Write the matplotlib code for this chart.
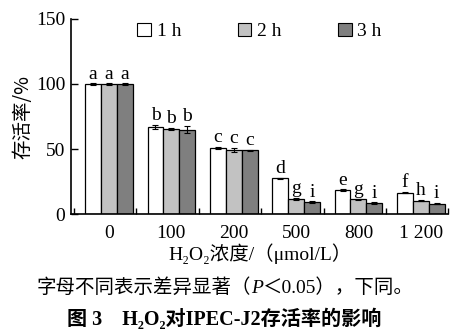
import numpy as np
import matplotlib
matplotlib.use('Agg')
from matplotlib import pyplot as plt
from matplotlib.patches import Patch

fonts = ['Liberation Serif', 'Noto Sans CJK SC', 'DejaVu Sans']
plt.rcParams['font.family'] = fonts

conc = ['0', '100', '200', '500', '800', '1 200']
series = ['1 h', '2 h', '3 h']
vals_1h = [100, 66.8, 51, 27.6, 18.5, 16.5]
vals_2h = [100, 65.5, 49.5, 11.8, 11.3, 10.3]
vals_3h = [100, 65, 49, 9.0, 8.5, 8.0]
err_1h = [0.5, 1.5, 0.6, 0.5, 0.5, 0.5]
err_2h = [0.5, 1.0, 1.5, 0.8, 0.5, 0.5]
err_3h = [0.5, 3.0, 0.6, 0.8, 0.5, 0.5]
letters_1h = ['a', 'b', 'c', 'd', 'e', 'f']
letters_2h = ['a', 'b', 'c', 'g', 'g', 'h']
letters_3h = ['a', 'b', 'c', 'i', 'i', 'i']
colors = ['white', '#c2c2c2', '#7f7f7f']


def plot_chart():
    fig = plt.figure(figsize=(4.64, 3.31), dpi=100)
    ax = fig.add_axes([0.153, 0.353, 0.813, 0.59])
    x = np.arange(len(conc))
    w = 0.255
    vals = [vals_1h, vals_2h, vals_3h]
    errs = [err_1h, err_2h, err_3h]
    lets = [letters_1h, letters_2h, letters_3h]
    for k in range(3):
        pos = x + 0.06 + (k - 1) * w
        ax.bar(pos, vals[k], width=w, color=colors[k], edgecolor='black', linewidth=0.9)
        ax.errorbar(pos, vals[k], yerr=errs[k], fmt='none', ecolor='black',
                    elinewidth=0.8, capsize=2, capthick=0.8)
        for p, v, e, t in zip(pos, vals[k], errs[k], lets[k]):
            ax.text(p, v + e + 0.6, t, ha='center', va='bottom', fontsize=14)

    ax.set_xlim(-0.55, 5.5)
    ax.set_ylim(0, 150)
    ax.set_yticks([0, 50, 100, 150])
    ax.set_xticks(x + 0.06)
    ax.set_xticklabels(conc)
    ax.set_xticks(np.arange(-0.5, 6, 1), minor=True)
    ax.tick_params(axis='x', which='major', length=0, pad=8, labelsize=14)
    ax.tick_params(axis='x', which='minor', direction='in', length=4, width=1)
    ax.tick_params(axis='y', direction='in', length=5, width=1, labelsize=14, pad=4)
    ax.spines['top'].set_visible(False)
    ax.spines['right'].set_visible(False)
    ax.spines['left'].set_linewidth(1.2)
    ax.spines['bottom'].set_linewidth(1.2)
    ax.set_ylabel('存活率/%', fontsize=14, labelpad=2,
                  family=['Noto Sans CJK SC', 'DejaVu Sans'])
    ax.set_xlabel('H₂O₂浓度/（μmol/L）', fontsize=14, labelpad=1)

    handles = [Patch(facecolor=c, edgecolor='black', linewidth=0.8) for c in colors]
    ax.legend(handles, series, loc='upper center', bbox_to_anchor=(0.5, 1.07), ncol=3,
              frameon=False, fontsize=14, handlelength=0.7, handleheight=0.7,
              handletextpad=0.3, columnspacing=2.9)

    t1 = fig.text(0.078, 0.115, '字母不同表示差异显著（', fontsize=14, va='baseline')
    t2 = ax.annotate('P', xy=(1, 0), xycoords=t1, va='bottom', fontsize=14,
                     style='italic', annotation_clip=False)
    ax.annotate('＜0.05），下同。', xy=(1, 0), xycoords=t2, va='bottom', fontsize=14,
                annotation_clip=False)
    fig.text(0.145, 0.018, '图 3    H₂O₂对IPEC-J2存活率的影响', fontsize=14.5,
             fontweight='bold')
    fig.savefig('out.png', dpi=100)


plot_chart()
